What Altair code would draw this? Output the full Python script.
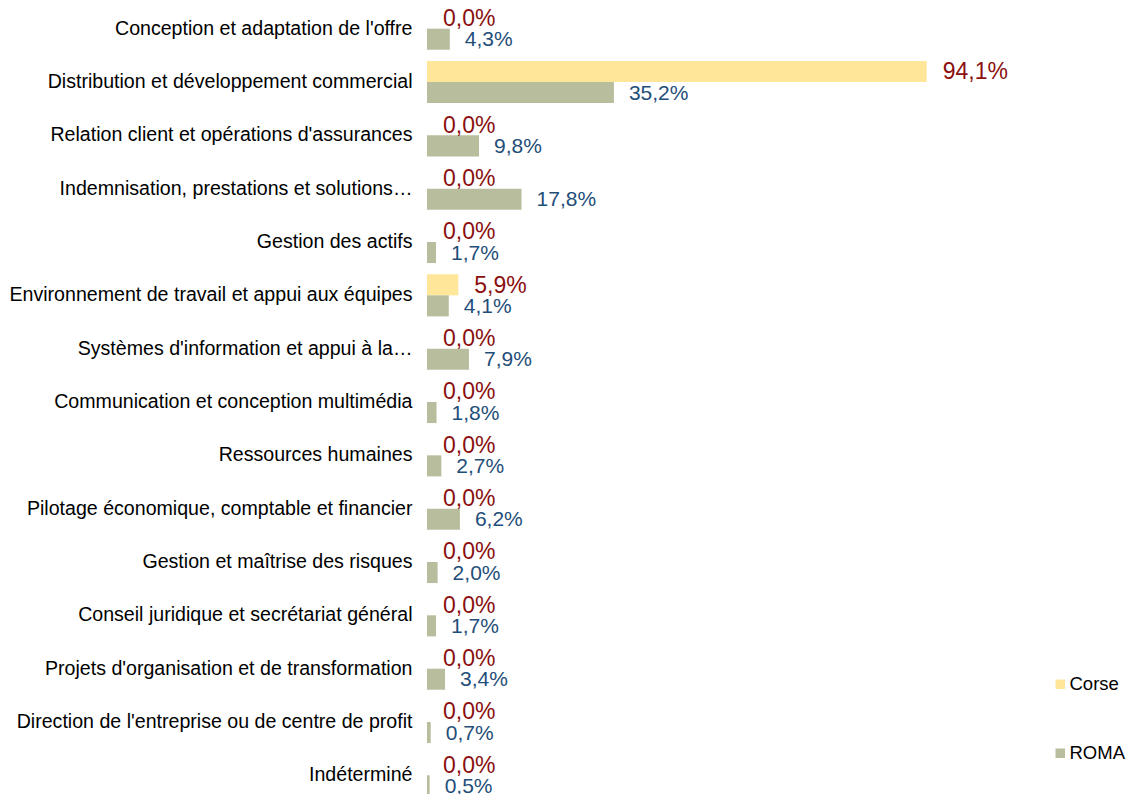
import altair as alt
import pandas as pd

categories = [
    "Conception et adaptation de l'offre",
    "Distribution et développement commercial",
    "Relation client et opérations d'assurances",
    "Indemnisation, prestations et solutions…",
    "Gestion des actifs",
    "Environnement de travail et appui aux équipes",
    "Systèmes d'information et appui à la…",
    "Communication et conception multimédia",
    "Ressources humaines",
    "Pilotage économique, comptable et financier",
    "Gestion et maîtrise des risques",
    "Conseil juridique et secrétariat général",
    "Projets d'organisation et de transformation",
    "Direction de l'entreprise ou de centre de profit",
    "Indéterminé",
]
corse = [0.0, 94.1, 0.0, 0.0, 0.0, 5.9, 0.0, 0.0, 0.0, 0.0, 0.0, 0.0, 0.0, 0.0, 0.0]
roma = [4.3, 35.2, 9.8, 17.8, 1.7, 4.1, 7.9, 1.8, 2.7, 6.2, 2.0, 1.7, 3.4, 0.7, 0.5]
series = ["Corse", "ROMA"]
colors = ["#FFE699", "#B8BE9D"]
label_colors = {"Corse": "#8B0F0F", "ROMA": "#1F4E79"}

rows = []
for c, a, b in zip(categories, corse, roma):
    for s, v in zip(series, [a, b]):
        rows.append({"cat": c, "series": s, "value": v,
                     "label": f"{v:.1f}".replace(".", ",") + "%"})
df = pd.DataFrame(rows)

FONT = "Liberation Sans"

y_enc = alt.Y("cat:N", sort=categories,
              scale=alt.Scale(domain=categories, range=[0, 800],
                              paddingInner=0.21, paddingOuter=0.105),
              axis=alt.Axis(title=None, ticks=False, domain=False,
                            labelPadding=15, labelFontSize=19.6, labelFont=FONT,
                            labelColor="#000000", labelLimit=600))
yoff = alt.YOffset("series:N", sort=series,
                   scale=alt.Scale(domain=series, paddingInner=0, paddingOuter=0))
x_enc = alt.X("value:Q", scale=alt.Scale(domain=[0, 100]), axis=None)

base = alt.Chart(df)

bars = base.mark_bar().encode(
    y=y_enc, yOffset=yoff, x=x_enc,
    color=alt.Color("series:N", sort=series,
                    scale=alt.Scale(domain=series, range=colors),
                    legend=alt.Legend(title=None, orient="none",
                                      legendX=624, legendY=673,
                                      symbolType="square", symbolSize=90,
                                      symbolStrokeWidth=0,
                                      labelFontSize=18.5, labelFont=FONT,
                                      labelColor="#000000", labelOffset=0,
                                      rowPadding=50, padding=0)),
)

t_corse = base.transform_filter(alt.datum.series == "Corse").mark_text(
    align="left", baseline="middle", dx=16, dy=1, fontSize=23, font=FONT,
    color=label_colors["Corse"]
).encode(y=y_enc, yOffset=yoff, x=x_enc, text="label:N")

t_roma = base.transform_filter(alt.datum.series == "ROMA").mark_text(
    align="left", baseline="middle", dx=15, dy=1, fontSize=21, font=FONT,
    color=label_colors["ROMA"]
).encode(y=y_enc, yOffset=yoff, x=x_enc, text="label:N")

chart = alt.layer(bars, t_corse, t_roma).properties(
    width=531, height=792,
    autosize=alt.AutoSizeParams(type="none"),
    padding={"left": 427, "top": 2, "right": 172, "bottom": 0},
    background="#ffffff",
).configure_view(stroke=None)

chart.save("out.html", embed_options={"renderer": "svg", "actions": False})
